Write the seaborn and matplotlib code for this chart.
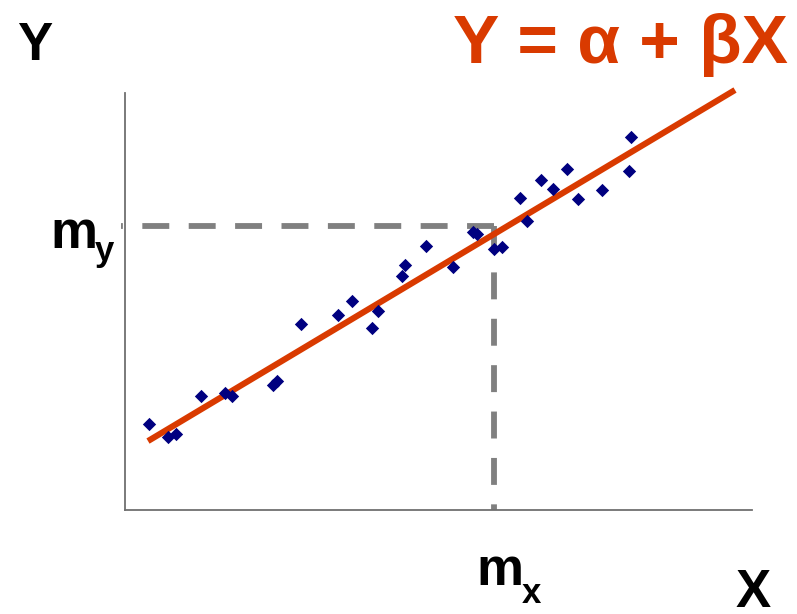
import numpy as np
import pandas as pd
import matplotlib.pyplot as plt
import seaborn as sns

# ==========================================
# DATA (units, origin at the axes corner)
# ==========================================
x_vals = [24, 43, 51, 76, 100, 107, 148, 152, 176, 213, 227, 247, 253, 277, 280,
          301, 328, 348, 352, 369, 377, 395, 402, 416, 428, 442, 453, 477, 504, 506]
y_vals = [86, 73, 76, 114, 117, 114, 125, 129, 186, 195, 209, 182, 199, 234, 245,
          264, 243, 278, 276, 261, 263, 312, 289, 330, 321, 341, 311, 320, 339, 373]

alpha = 55.2      # intercept of drawn line
beta = 0.598      # slope of drawn line
fit_range = [23, 610]

m_x = 369
m_y = 284

X_MAX = 627
Y_MAX = 417

ORANGE = "#D93A00"
NAVY = "#000080"
GREY = "#808080"

# ==========================================
# PLOT
# ==========================================
sns.set_theme(style="white")
plt.rcParams["font.family"] = ["Liberation Sans", "DejaVu Sans"]
plt.rcParams["lines.scale_dashes"] = False

W, H = 797, 614
fig = plt.figure(figsize=(W / 100, H / 100), dpi=100)
ax = fig.add_axes([125 / W, (H - 510) / H, 627 / W, 417 / H])

df = pd.DataFrame({"x": x_vals, "y": y_vals})
fit = pd.DataFrame({"x": fit_range})
fit["y"] = alpha + beta * fit["x"]

# mean guide lines (dashed)
ax.plot([m_x, -4], [m_y, m_y], color=GREY, lw=4.2, dashes=(19.4, 14.0),
        dash_capstyle="butt", clip_on=False, zorder=1)
ax.plot([m_x, m_x], [m_y, 0], color=GREY, lw=4.2, dashes=(19.4, 14.0),
        dash_capstyle="butt", clip_on=False, zorder=1)

sns.lineplot(data=fit, x="x", y="y", ax=ax, color=ORANGE, lw=4.4,
             solid_capstyle="butt", zorder=2)
ax.lines[-1].set_clip_on(False)
sns.scatterplot(data=df, x="x", y="y", ax=ax, marker="D", s=46, color=NAVY,
                linewidth=0, zorder=3)

ax.set_xlim(0, X_MAX)
ax.set_ylim(0, Y_MAX)
ax.set_xticks([])
ax.set_yticks([])
ax.set_xlabel("")
ax.set_ylabel("")
for side in ["top", "right"]:
    ax.spines[side].set_visible(False)
for side in ["left", "bottom"]:
    ax.spines[side].set_color("#707070")
    ax.spines[side].set_linewidth(1.3)


def ftext(px, py, s, size, color="black", ha="left"):
    fig.text(px / W, 1 - py / H, s, fontsize=size, fontweight="bold",
             color=color, ha=ha, va="baseline")


ftext(35, 60, "Y", 38, ha="center")
ftext(788, 63, "Y = α + βX", 50, color=ORANGE, ha="right")
ftext(50, 248, "m", 38)
ftext(95, 261, "y", 25)
ftext(476, 585, "m", 38)
ftext(522, 603, "x", 25)
ftext(736, 607, "X", 38)

plt.savefig("out.png", dpi=100)
